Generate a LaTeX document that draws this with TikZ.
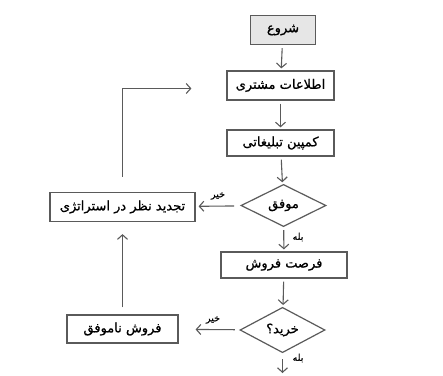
\documentclass[tikz,border=0pt]{standalone}
\usepackage{fontspec}
\setmainfont{DejaVu Sans}
\newfontfamily\arabicfont[Script=Arabic,FakeBold=0.8]{DejaVu Sans}
\TeXXeTstate=1
\usetikzlibrary{shapes.geometric,arrows.meta}
\definecolor{linegray}{HTML}{5A5A5A}
\definecolor{boxfill}{HTML}{E6E6E6}
\tikzset{
  flowbox/.style={draw=linegray, line width=1.2pt, rectangle, inner sep=0pt, font=\arabicfont\fontsize{13}{15}\selectfont, text=black},
  decision/.style={draw=linegray, line width=1.2pt, diamond, inner sep=0pt, font=\arabicfont\fontsize{13}{15}\selectfont, text=black},
  flowarrow/.style={draw=linegray, line width=1.1pt, -{Straight Barb[length=4.5pt,width=10pt]}},
  smalllabel/.style={font=\arabicfont\fontsize{9.5}{11}\selectfont, text=black, inner sep=0pt}
}
\begin{document}
\begin{tikzpicture}[x=1pt,y=-1pt]
\useasboundingbox (0,0) rectangle (443,375);
\node[flowbox, fill=boxfill, minimum width=65pt, minimum height=29pt] (start) at (283,30) {\beginR شروع\endR};
\node[flowbox, minimum width=107pt, minimum height=29pt] (info) at (280.5,85.5) {\beginR اطلاعات مشتری\endR};
\node[flowbox, minimum width=107pt, minimum height=26pt] (camp) at (280.5,143) {\beginR کمپین تبلیغاتی\endR};
\node[decision, minimum width=85pt, minimum height=38pt] (d1) at (283.5,205.5) {\beginR موفق\endR};
\node[flowbox, minimum width=126pt, minimum height=26pt] (opp) at (284,265) {\beginR فرصت فروش\endR};
\node[decision, minimum width=85pt, minimum height=31pt] (d2) at (282.5,330) {\beginR خرید؟\endR};
\node[flowbox, minimum width=145pt, minimum height=29pt] (rev) at (122.5,207) {\beginR تجدید نظر در استراتژی\endR};
\node[flowbox, minimum width=111pt, minimum height=28pt] (fail) at (122.5,329) {\beginR فروش ناموفق\endR};
\coordinate (endpt) at (282.5,373);

\draw[flowarrow, shorten <=3pt, shorten >=2pt] (start) -- (info);
\draw[flowarrow, shorten <=3pt, shorten >=2pt] (info) -- (camp);
\draw[flowarrow, shorten <=3pt, shorten >=2pt] (camp) -- (d1);
\draw[flowarrow, shorten <=3pt, shorten >=2pt] (d1) -- (opp);
\draw[flowarrow, shorten <=3pt, shorten >=2pt] (opp) -- (d2);
\draw[flowarrow, shorten <=6pt] (d2) -- (endpt);
\draw[flowarrow, shorten <=7pt, shorten >=3pt] (d1) -- (rev);
\draw[flowarrow, shorten <=5pt, shorten >=17pt] (d2) -- (fail);
\draw[flowarrow, shorten <=7pt, shorten >=12pt] (fail) -- (rev);
\draw[flowarrow, shorten <=15pt, shorten >=35pt] (rev.north) |- ([yshift=-3pt]info.west);

\node[smalllabel] (no1) at (218,196) {\beginR خیر\endR};
\node[smalllabel] (yes1) at (298,237) {\beginR بله\endR};
\node[smalllabel] (no2) at (213,320) {\beginR خیر\endR};
\node[smalllabel] (yes2) at (298,358) {\beginR بله\endR};
\end{tikzpicture}
\end{document}
